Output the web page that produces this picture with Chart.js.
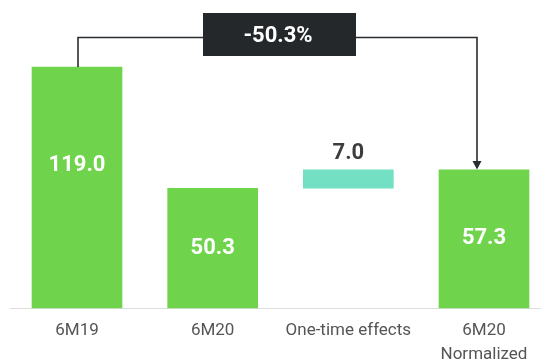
<!DOCTYPE html>
<html>
<head>
<meta charset="utf-8">
<script src="https://cdn.jsdelivr.net/npm/chart.js@4.4.1/dist/chart.umd.min.js"></script>
<style>
  html, body { margin: 0; padding: 0; background: #ffffff; }
  #wrap { width: 541px; height: 362px; }
</style>
</head>
<body>
<div id="wrap"><canvas id="c" width="541" height="362"></canvas></div>
<script>
// ---- data ----
const categories = [['6M19'], ['6M20'], ['One-time effects'], ['6M20', 'Normalized']];
const values = [119.0, 50.3, 7.0, 57.3];
const barKinds = ['total', 'total', 'delta', 'total'];
const changeLabel = '-50.3%';

// ---- styling ----
const GREEN = '#6fd44b';
const TEAL = '#73e0c4';
const DARK = '#25282b';
const FONT = 'Roboto, "Liberation Sans", sans-serif';

// build bar data (delta bar floats on the previous total)
const barData = values.map((v, i) => {
  if (barKinds[i] === 'delta') {
    const prev = values[i - 1];
    return [prev, prev + v];
  }
  return v;
});
const barColors = barKinds.map(k => k === 'delta' ? TEAL : GREEN);

const decorPlugin = {
  id: 'decor',
  beforeDatasetsDraw(chart) {
    const { ctx, chartArea } = chart;
    ctx.save();
    ctx.strokeStyle = '#dddddd';
    ctx.lineWidth = 1;
    ctx.beginPath();
    ctx.moveTo(10, chartArea.bottom + 0.5);
    ctx.lineTo(chart.width, chartArea.bottom + 0.5);
    ctx.stroke();
    ctx.restore();
  },
  afterDatasetsDraw(chart) {
    const { ctx, chartArea } = chart;
    const meta = chart.getDatasetMeta(0);
    ctx.save();
    ctx.textAlign = 'center';
    ctx.textBaseline = 'middle';
    ctx.font = 'bold 22px ' + FONT;
    meta.data.forEach((bar, i) => {
      const label = values[i].toFixed(1);
      if (barKinds[i] === 'delta') {
        ctx.fillStyle = '#3b3d3f';
        ctx.fillText(label, bar.x, bar.y - 16.5);
      } else {
        const top = bar.y, bottom = bar.base;
        const y = Math.min((top + bottom) / 2, top + 98);
        ctx.fillStyle = '#ffffff';
        ctx.fillText(label, bar.x, y);
      }
    });

    // connector from first to last total
    const first = meta.data[0];
    const last = meta.data[meta.data.length - 1];
    const lineY = chartArea.top - 29.5;
    const x1 = first.x + 1;
    const x2 = last.x - 7;
    ctx.strokeStyle = '#2a2d30';
    ctx.lineWidth = 1.6;
    ctx.beginPath();
    ctx.moveTo(x1, first.y);
    ctx.lineTo(x1, lineY);
    ctx.lineTo(x2, lineY);
    ctx.lineTo(x2, last.y - 8);
    ctx.stroke();
    ctx.fillStyle = '#2a2d30';
    ctx.beginPath();
    ctx.moveTo(x2 - 4.5, last.y - 9);
    ctx.lineTo(x2 + 4.5, last.y - 9);
    ctx.lineTo(x2, last.y - 0.5);
    ctx.closePath();
    ctx.fill();

    // change box
    const cx = (x1 + x2) / 2 + 2;
    ctx.fillStyle = DARK;
    ctx.fillRect(cx - 76.5, lineY - 24.5, 153, 43);
    ctx.fillStyle = '#ffffff';
    ctx.font = 'bold 22px ' + FONT;
    ctx.fillText(changeLabel, cx - 1.5, lineY - 1.5);
    ctx.restore();
  }
};

new Chart(document.getElementById('c'), {
  type: 'bar',
  data: {
    labels: categories,
    datasets: [{
      data: barData,
      backgroundColor: barColors,
      borderWidth: 0,
      barThickness: 90,
      clip: false
    }]
  },
  options: {
    responsive: false,
    animation: false,
    layout: { padding: { left: 77, right: 57, top: 67, bottom: 0 } },
    plugins: { legend: { display: false }, tooltip: { enabled: false } },
    scales: {
      x: {
        offset: false,
        grid: { display: false, drawTicks: false },
        border: { display: false },
        ticks: {
          autoSkip: false,
          maxRotation: 0,
          padding: 11,
          color: '#555555',
          font: { family: FONT, size: 17, lineHeight: 1.4 }
        },
        afterFit(scale) { scale.height = 54; }
      },
      y: {
        type: 'logarithmic',
        display: false,
        min: 21.5,
        max: 119,
        bounds: 'data'
      }
    }
  },
  plugins: [decorPlugin]
});
</script>
</body>
</html>
